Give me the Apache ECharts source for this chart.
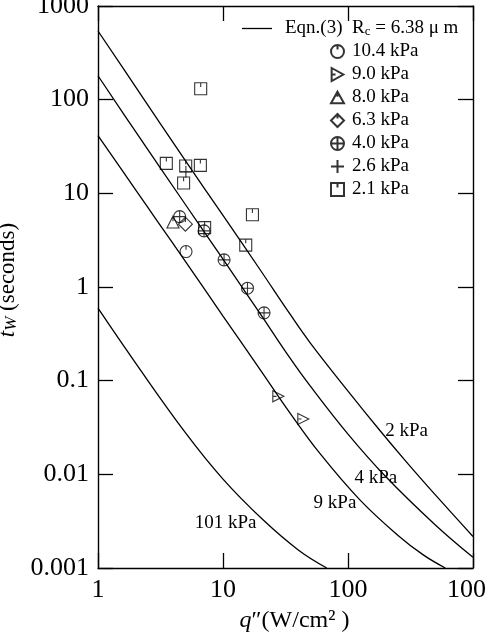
<!DOCTYPE html>
<html>
<head>
<meta charset="utf-8">
<script src="https://cdn.jsdelivr.net/npm/echarts@6.0.0/dist/echarts.min.js"></script>
<style>
  html, body { margin: 0; padding: 0; background: #fff; }
  #chart { width: 486px; height: 642px; }
</style>
</head>
<body>
<div id="chart"></div>
<script>
// axis ticks
const xTickLabels = { 1: '1', 10: '10', 100: '100', 1000: '1000' };
const yTickLabels = { 0.001: '0.001', 0.01: '0.01', 0.1: '0.1', 1: '1', 10: '10', 100: '100', 1000: '1000' };

// Eqn.(3) curves
const q2kPa = [1, 2, 5, 10, 20, 34.4, 50, 100, 180, 300, 500, 1000];
const t2kPa = [541, 137, 22.3, 5.8, 1.5, 0.512, 0.252, 0.0774, 0.0294, 0.0131, 0.00603, 0.00217];
const q4kPa = [1, 2, 5, 10, 20, 34.4, 50, 100, 200, 500, 1000];
const t4kPa = [180, 45.5, 7.6, 1.98, 0.51, 0.174, 0.0873, 0.0269, 0.00948, 0.00288, 0.0013];
const q9kPa = [1, 2, 3, 5, 10, 20, 34.4, 60, 125, 250, 400, 600];
const t9kPa = [41.3, 10.9, 5.0, 1.88, 0.49, 0.129, 0.045, 0.0165, 0.0053, 0.00224, 0.00138, 0.001];
const q101kPa = [1, 2, 5, 10, 20.9, 40, 67.6];
const t101kPa = [0.594, 0.154, 0.0279, 0.0089, 0.00327, 0.00156, 0.001];

// measured points [q, t]
const p104 = [[5.06, 2.39]];
const p90 = [[27.7, 0.068], [43.9, 0.039]];
const p80 = [[3.98, 4.95]];
const p63 = [[5.0, 4.68]];
const p40 = [[4.5, 5.64], [7.05, 3.97], [10.2, 1.95], [15.7, 0.97], [21.3, 0.53]];
const p26 = [[5.05, 17]];
const p21 = [[6.63, 131], [3.52, 20.9], [5.03, 19.6], [6.59, 19.9], [4.84, 12.9], [7.13, 4.3], [17.2, 5.9], [15.2, 2.8]];

const curveLabels = [['2 kPa', 294, 0.0291], ['4 kPa', 167, 0.0091], ['9 kPa', 78.7, 0.00493], ['101 kPa', 10.5, 0.00301]];

const eqnName = 'Eqn.(3)';
const font = 'Liberation Serif';

const sym = {
  circ: 'path://M0,-10A10,10 0 1,1 0,10A10,10 0 1,1 0,-10ZM0,-10L0,-3',
  tri: 'path://M-8,-10L10,0L-8,10ZM-8,0L-2,0',
  up: 'path://M0,-10L10,8L-10,8ZM0,-10L0,-2',
  dia: 'path://M0,-10L10,0L0,10L-10,0ZM0,-10L0,-3',
  ocross: 'path://M0,-10A10,10 0 1,1 0,10A10,10 0 1,1 0,-10ZM-10,0L10,0M0,-10L0,10',
  plus: 'path://M-10,0L10,0M0,-10L0,10',
  sq: 'path://M-10,-10L10,-10L10,10L-10,10ZM0,-10L0,-3'
};

function zip(q, t) { return q.map((v, i) => [v, t[i]]); }

function curve(q, t, label) {
  return {
    name: eqnName, type: 'line', data: zip(q, t), smooth: 0.4,
    symbol: 'none', color: '#000', lineStyle: { color: '#000', width: 1.3 },
    xAxisIndex: 0, yAxisIndex: 0, z: 2,
    markPoint: {
      symbol: 'circle', symbolSize: 0, silent: true,
      label: { show: true, position: 'inside', formatter: label[0], color: '#000', fontFamily: font, fontSize: 19 },
      data: [{ coord: [label[1], label[2]] }]
    }
  };
}

function pts(name, data, s, size) {
  return {
    name: name, type: 'scatter', data: data, symbol: s, symbolSize: size || 12,
    itemStyle: { color: 'rgba(0,0,0,0)', borderColor: '#000', borderWidth: 1.1 },
    xAxisIndex: 0, yAxisIndex: 0, z: 3
  };
}

const axisCommon = {
  type: 'log', logBase: 10,
  axisLine: { lineStyle: { color: '#000', width: 1.4 } },
  axisTick: { inside: true, length: 15, lineStyle: { color: '#000', width: 1.3 } },
  minorTick: { show: false },
  splitLine: { show: false }
};

const chart = echarts.init(document.getElementById('chart'), null, { renderer: 'canvas' });
chart.setOption({
  backgroundColor: '#fff',
  animation: false,
  grid: { left: 98, top: 6, right: 13, bottom: 74, containLabel: false, outerBoundsMode: 'none' },
  xAxis: [
    Object.assign({}, axisCommon, {
      min: 1, max: 1000, position: 'bottom',
      axisLabel: { color: '#000', fontFamily: font, fontSize: 26, margin: 9, hideOverlap: false, formatter: v => xTickLabels[v] || '' },
      name: '{i|q}{n|″(W/cm² )}', nameLocation: 'middle', nameGap: 41,
      nameTextStyle: {
        padding: [0, 0, 0, 18],
        rich: {
          i: { fontFamily: font, fontStyle: 'italic', fontSize: 24, color: '#000' },
          n: { fontFamily: font, fontSize: 24, color: '#000' }
        }
      }
    }),
    Object.assign({}, axisCommon, { min: 1, max: 1000, position: 'top', axisLabel: { show: false } })
  ],
  yAxis: [
    Object.assign({}, axisCommon, {
      min: 0.001, max: 1000, position: 'left',
      axisLabel: { color: '#000', fontFamily: font, fontSize: 26, margin: 9, hideOverlap: false, formatter: v => yTickLabels[+v.toPrecision(3)] || '' },
      name: '{i|t}{sub|W}{n| (seconds)}', nameLocation: 'middle', nameGap: 65, nameRotate: 90,
      nameTextStyle: {
        padding: [0, 0, 0, 14],
        rich: {
          i: { fontFamily: font, fontStyle: 'italic', fontSize: 23, color: '#000' },
          n: { fontFamily: font, fontSize: 23, color: '#000' },
          sub: { fontFamily: font, fontStyle: 'italic', fontSize: 17, color: '#000', verticalAlign: 'bottom', padding: [6, 0, 0, 0] }
        }
      }
    }),
    Object.assign({}, axisCommon, { min: 0.001, max: 1000, position: 'right', axisLabel: { show: false } })
  ],
  legend: [
    {
      data: [{ name: eqnName, icon: 'rect', itemStyle: { color: '#000' } }],
      left: 242, top: 19, padding: 0,
      itemWidth: 30, itemHeight: 1.3,
      formatter: () => '{a|Eqn.(3)  R}{c|c}{a| = 6.38 μ m}',
      textStyle: {
        padding: [0, 0, 0, 8],
        rich: {
          a: { fontFamily: font, fontSize: 19, color: '#000' },
          c: { fontFamily: font, fontSize: 13, color: '#000', verticalAlign: 'bottom', padding: [5, 0, 0, 0] }
        }
      }
    },
    {
      data: ['10.4 kPa', '9.0 kPa', '8.0 kPa', '6.3 kPa', '4.0 kPa', '2.6 kPa', '2.1 kPa'],
      orient: 'vertical', left: 330, top: 42, padding: 0,
      itemWidth: 13, itemHeight: 13, itemGap: 4,
      textStyle: { fontFamily: font, fontSize: 19, lineHeight: 19, color: '#000', padding: [0, 0, 0, 3] }
    }
  ],
  series: [
    curve(q2kPa, t2kPa, curveLabels[0]),
    curve(q4kPa, t4kPa, curveLabels[1]),
    curve(q9kPa, t9kPa, curveLabels[2]),
    curve(q101kPa, t101kPa, curveLabels[3]),
    pts('10.4 kPa', p104, sym.circ),
    pts('9.0 kPa', p90, sym.tri, 11),
    pts('8.0 kPa', p80, sym.up),
    pts('6.3 kPa', p63, sym.dia, 14),
    pts('4.0 kPa', p40, sym.ocross),
    pts('2.6 kPa', p26, sym.plus),
    pts('2.1 kPa', p21, sym.sq)
  ]
});
</script>
</body>
</html>
